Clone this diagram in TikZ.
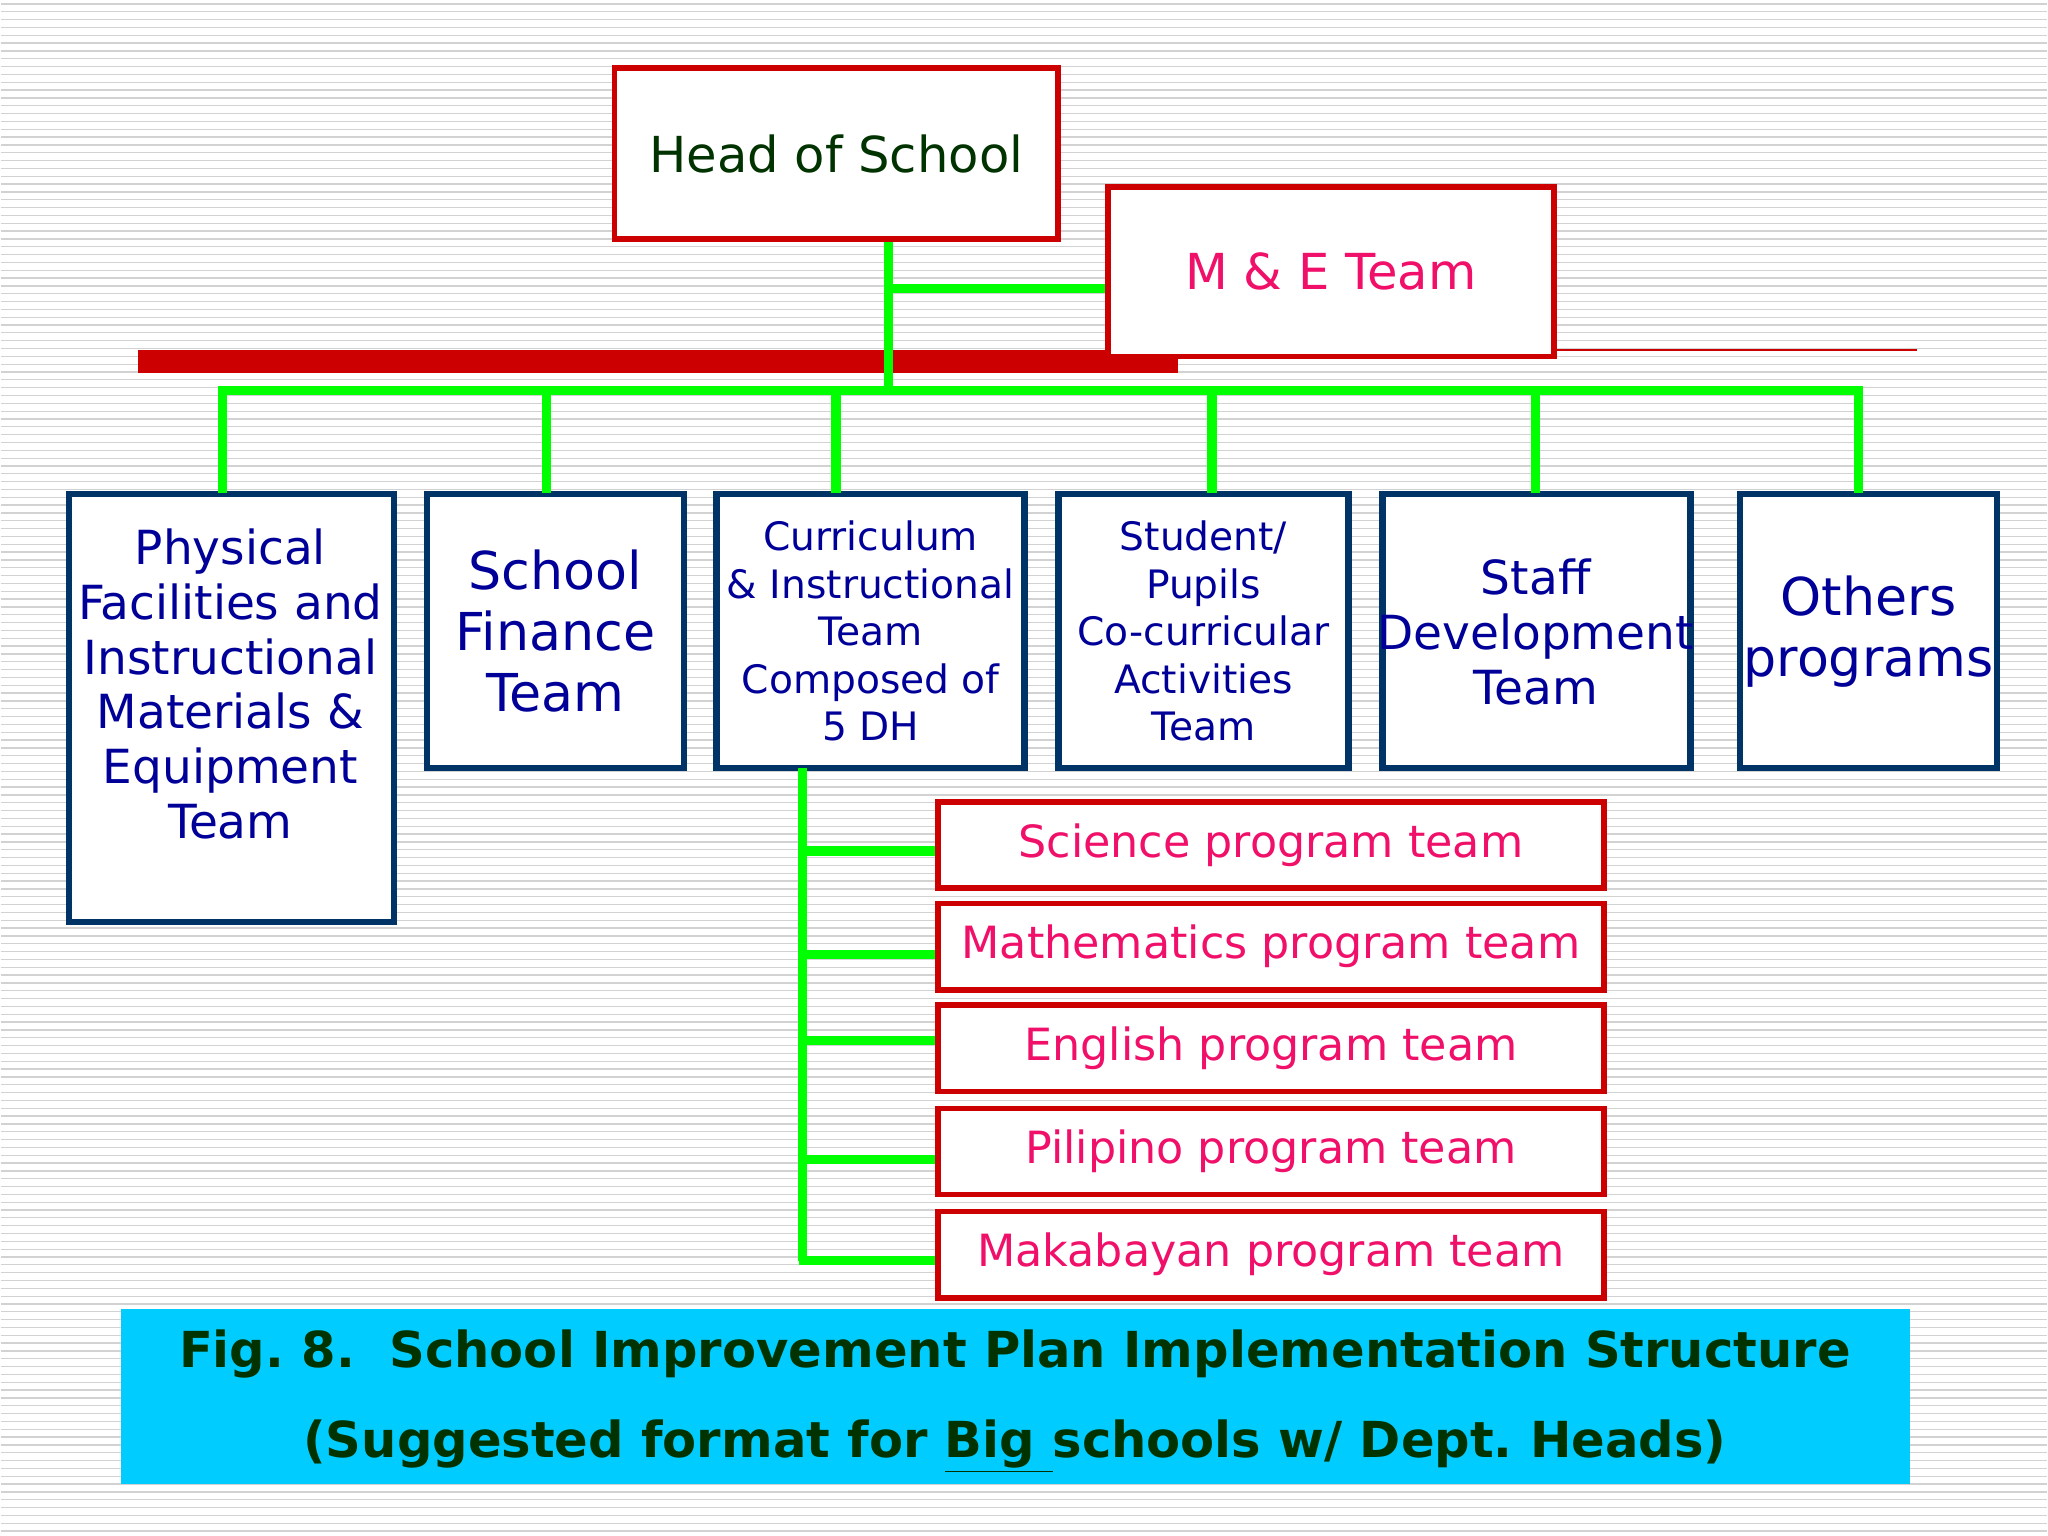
\documentclass[tikz,border=0pt]{standalone}
\usepackage{fontspec}
\setmainfont{DejaVu Sans}
\frenchspacing
\begin{document}
\definecolor{navy}{HTML}{000099}
\definecolor{nb}{HTML}{003366}
\definecolor{rb}{HTML}{CC0000}
\definecolor{pk}{HTML}{F0106A}
\definecolor{gr}{HTML}{00FF00}
\definecolor{dg}{HTML}{003300}
\definecolor{cy}{HTML}{00CCFF}
\begin{tikzpicture}[x=0.5pt,y=-0.5pt,
 red box/.style={draw=rb,line width=2.2pt,fill=white,inner sep=0pt},
 blue box/.style={draw=nb,line width=2.5pt,fill=white,inner sep=0pt},
 gl/.style={draw=gr,line width=3.5pt},
 bt/.style={text=navy,align=center,font=\fontsize{18}{21}\selectfont},
 st/.style={text=pk,font=\fontsize{17}{20}\selectfont}]
\fill[white] (0,0) rectangle (1568,1176);
\foreach \y in {3,9,...,1176} \draw[gray!35,line width=0.5pt] (0,\y) -- (1568,\y);
\useasboundingbox (0,0) rectangle (1568,1176);
% red bar and thin line
\fill[rb] (105,268) rectangle (902,286);
\draw[rb,line width=0.6pt] (1190,268) -- (1468,268);
% boxes
\node[red box,minimum width=170pt,minimum height=65.5pt,anchor=north west,text=dg,font=\fontsize{19}{22}\selectfont] (head) at (468,50) {Head of School};
\node[red box,minimum width=171pt,minimum height=65pt,anchor=north west,text=pk,font=\fontsize{19}{22}\selectfont] (me) at (846,141) {M \& E Team};
\node[blue box,minimum width=124.5pt,minimum height=164pt,anchor=north west] (b1) at (50,376) {};
\node[bt,anchor=north] at (176,398) {Physical\\Facilities and\\Instructional\\Materials \&\\Equipment\\Team};
\node[blue box,minimum width=98.5pt,minimum height=105pt,anchor=north west] (b2) at (324,376) {};
\node[bt,font=\fontsize{20}{23.5}\selectfont] at (b2) {School\\Finance\\Team};
\node[blue box,minimum width=118pt,minimum height=105pt,anchor=north west] (b3) at (546,376) {};
\node[bt,font=\fontsize{15}{18.2}\selectfont] at (b3) {Curriculum\\\& Instructional\\Team\\Composed of\\5 DH};
\node[blue box,minimum width=111pt,minimum height=105pt,anchor=north west] (b4) at (808,376) {};
\node[bt,font=\fontsize{15}{18.2}\selectfont] at (b4) {Student/\\Pupils\\Co-curricular\\Activities\\Team};
\node[blue box,minimum width=118pt,minimum height=105pt,anchor=north west] (b5) at (1056,376) {};
\node[bt] at (1176,484) {Staff\\Development\\Team};
\node[blue box,minimum width=98.5pt,minimum height=105pt,anchor=north west] (b6) at (1330,376) {};
\node[bt,font=\fontsize{20}{23.5}\selectfont] at (1431,484) {Others\\programs};
% sub boxes
\foreach \n/\y/\t in {s1/612/Science program team,s2/690/Mathematics program team,s3/768/English program team,s4/847/Pilipino program team,s5/926/Makabayan program team}
 \node[red box,st,minimum width=255pt,minimum height=33pt,anchor=north west] (\n) at (716,\y) {\t};
% green connectors
\coordinate (j) at (680,299);
\draw[gl] (head.south -| j) -- (j);
\draw[gl] (680,221) -- (me.west |- 0,221);
\draw[gl] (170,378) -- (170,299) -- (1423,299) -- (1423,378);
\foreach \x/\b in {418/b2,640/b3,928/b4,1176/b5} \draw[gl] (\x,299) -- (\x,378);
\draw[gl] (614,588) -- (614,966);
\foreach \y/\n in {652/s1,731/s2,797/s3,888/s4,966/s5} \draw[gl] (612,\y) -- (\n.west |- 0,\y);
% caption
\fill[cy] (92,1003) rectangle (1463,1137);
\node[text=dg,font=\bfseries\fontsize{19}{22}\selectfont] (c1) at (777,1037) {Fig. 8.\ \ School Improvement Plan Implementation Structure};
\node[text=dg,font=\bfseries\fontsize{19}{22}\selectfont] (c2) at (777,1108) {(Suggested format for \underline{Big }schools w/ Dept. Heads)};
\end{tikzpicture}
\end{document}
